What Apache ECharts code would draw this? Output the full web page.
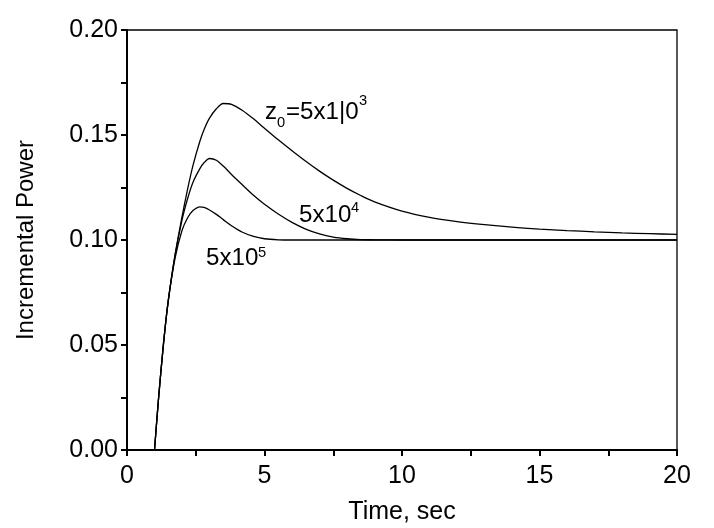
<!DOCTYPE html>
<html><head><meta charset="utf-8">
<script src="https://cdn.jsdelivr.net/npm/echarts@6/dist/echarts.min.js"></script>
</head><body style="margin:0;background:#fff">
<div id="c" style="width:714px;height:528px"></div>
<script>
const time = [1, 1.15, 1.33, 1.5, 1.75, 2.0, 2.2, 2.4, 2.65, 2.8, 3.0, 3.25, 3.5, 3.8, 4.2, 4.6, 5.0, 5.5, 6.0, 6.5, 7.0, 7.5, 8.0, 8.5, 9.0, 10, 11, 12, 13, 14, 15, 16, 17, 18, 19, 20];
const z5e3 = [0, 0.025, 0.051, 0.071, 0.093, 0.111, 0.124, 0.1355, 0.147, 0.1525, 0.158, 0.1625, 0.1650, 0.1646, 0.1617, 0.1577, 0.1532, 0.1477, 0.1425, 0.1375, 0.1328, 0.1285, 0.1246, 0.1212, 0.1182, 0.1138, 0.1108, 0.1088, 0.1073, 0.1061, 0.1052, 0.1045, 0.1039, 0.1034, 0.1030, 0.1027];
const z5e4 = [0, 0.025, 0.051, 0.071, 0.093, 0.1095, 0.1195, 0.1275, 0.1340, 0.1368, 0.1388, 0.1380, 0.1352, 0.1312, 0.1262, 0.1213, 0.1170, 0.1124, 0.1084, 0.1052, 0.1029, 0.1014, 0.1006, 0.1002, 0.1001, 0.1, 0.1, 0.1, 0.1, 0.1, 0.1, 0.1, 0.1, 0.1, 0.1, 0.1];
const z5e5 = [0, 0.025, 0.051, 0.071, 0.0915, 0.1045, 0.1105, 0.1140, 0.1158, 0.1155, 0.1143, 0.1122, 0.1097, 0.1068, 0.1037, 0.1017, 0.1006, 0.1001, 0.1, 0.1, 0.1, 0.1, 0.1, 0.1, 0.1, 0.1, 0.1, 0.1, 0.1, 0.1, 0.1, 0.1, 0.1, 0.1, 0.1, 0.1];
const xTicks = [0, 5, 10, 15, 20];
const yTicks = [0.00, 0.05, 0.10, 0.15, 0.20];
const xTitle = 'Time, sec';
const yTitle = 'Incremental Power';

const FONT = '"Liberation Sans", Arial, sans-serif';
const chart = echarts.init(document.getElementById('c'), null, {renderer: 'canvas'});
const mk = arr => time.map((t, i) => [t, arr[i]]);
const lineSeries = (name, arr) => ({
  name, type: 'line', data: mk(arr), showSymbol: false, smooth: 0.3,
  lineStyle: {color: '#000', width: 1.3}, z: 3, silent: true
});
const txt = (text, x, y, size) => ({
  type: 'text', x, y, scaleX: 1.05, scaleY: 1, originX: 0, originY: 0, silent: true, z: 10,
  style: {text, fill: '#000', font: size + 'px ' + FONT, align: 'left', verticalAlign: 'top'}
});
chart.setOption({
  animation: false,
  backgroundColor: '#fff',
  grid: {left: 127, right: 37, top: 30, bottom: 78, containLabel: false, outerBoundsMode: 'none',
    show: true, borderColor: '#000', borderWidth: 1.3, backgroundColor: 'transparent'},
  xAxis: {
    type: 'value', min: xTicks[0], max: xTicks[xTicks.length - 1], interval: 5,
    name: xTitle, nameLocation: 'middle', nameGap: 50,
    nameTextStyle: {fontSize: 25, fontFamily: FONT, color: '#000'},
    axisLine: {show: true, lineStyle: {color: '#000', width: 2}},
    axisTick: {show: true, length: 6, lineStyle: {color: '#000', width: 2}},
    minorTick: {show: true, splitNumber: 2, length: 6, lineStyle: {color: '#000', width: 2}},
    splitLine: {show: false},
    axisLabel: {fontSize: 25, fontFamily: FONT, color: '#000', margin: 14}
  },
  yAxis: {
    type: 'value', min: yTicks[0], max: yTicks[yTicks.length - 1], interval: 0.05,
    name: yTitle, nameLocation: 'middle', nameGap: 89,
    nameTextStyle: {fontSize: 24, fontFamily: FONT, color: '#000'},
    axisLine: {show: true, lineStyle: {color: '#000', width: 2}},
    axisTick: {show: true, length: 6, lineStyle: {color: '#000', width: 2}},
    minorTick: {show: true, splitNumber: 2, length: 6, lineStyle: {color: '#000', width: 2}},
    splitLine: {show: false},
    axisLabel: {fontSize: 25, fontFamily: FONT, color: '#000', margin: 9, formatter: v => v.toFixed(2)}
  },
  series: [lineSeries('5x10^3', z5e3), lineSeries('5x10^4', z5e4), lineSeries('5x10^5', z5e5)],
  graphic: [
    txt('z', 265, 101, 23),
    txt('0', 277, 116.5, 14),
    txt('=5x1|0', 286, 101, 23),
    txt('3', 359, 94.5, 14),
    txt('5x10', 299, 204, 23),
    txt('4', 351, 201.5, 14),
    txt('5x10', 206, 247.5, 23),
    txt('5', 258, 246.5, 14)
  ]
});
</script>
</body></html>
